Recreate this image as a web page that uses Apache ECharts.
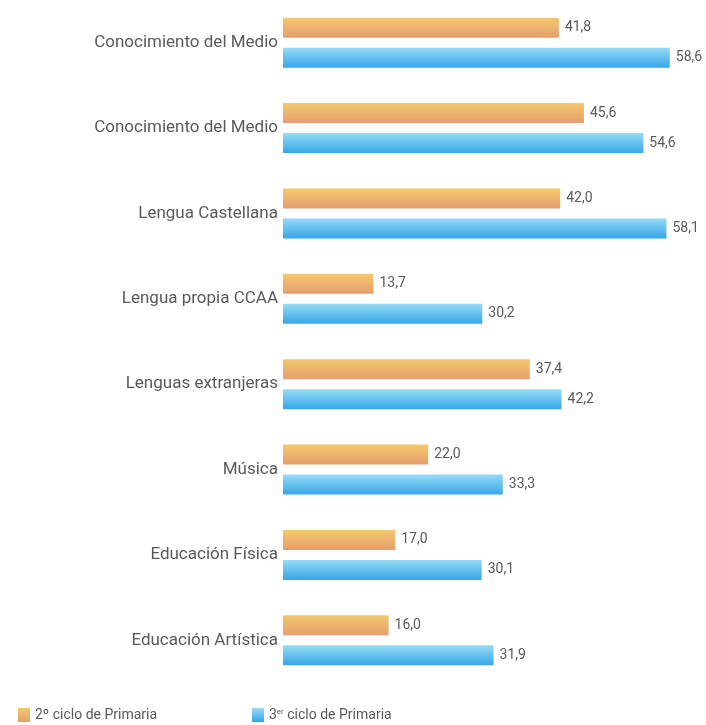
<!DOCTYPE html>
<html>
<head>
<meta charset="utf-8">
<script src="https://cdn.jsdelivr.net/npm/echarts@6/dist/echarts.min.js"></script>
<style>html,body{margin:0;padding:0;background:#fff;}#c{width:706px;height:725px;}</style>
</head>
<body>
<div id="c"></div>
<script>
const categories = ['Conocimiento del Medio','Conocimiento del Medio','Lengua Castellana','Lengua propia CCAA','Lenguas extranjeras','Música','Educación Física','Educación Artística'];
const seriesNames = ['2º ciclo de Primaria','3er ciclo de Primaria'];
const ciclo2 = [41.8, 45.6, 42.0, 13.7, 37.4, 22.0, 17.0, 16.0];
const ciclo3 = [58.6, 54.6, 58.1, 30.2, 42.2, 33.3, 30.1, 31.9];

const FONT = 'Roboto, sans-serif';
const fmt = p => p.value.toFixed(1).replace('.', ',');
const orangeGrad = new echarts.graphic.LinearGradient(0,0,0,1,[{offset:0,color:'#f5c96b'},{offset:1,color:'#e49d70'}]);
const blueGrad = new echarts.graphic.LinearGradient(0,0,0,1,[{offset:0,color:'#97dbf7'},{offset:1,color:'#36a6e6'}]);

const chart = echarts.init(document.getElementById('c'), null, {renderer:'canvas'});
chart.setOption({
  backgroundColor:'#fff',
  animation:false,
  grid:{left:283, top:-4, height:687, width:396},
  xAxis:{type:'value', min:0, max:60, show:false},
  yAxis:{type:'category', inverse:true, data:categories,
    axisLine:{show:false}, axisTick:{show:false}, splitLine:{show:false},
    axisLabel:{margin:5, fontFamily:FONT, fontSize:17, color:'#5a5a5a'}},
  legend:[
    {data:[seriesNames[0]], left:13, top:703, itemWidth:12, itemHeight:14, itemGap:8, icon:'rect',
      textStyle:{fontFamily:FONT, fontSize:14, color:'#5a5a5a'}},
    {data:[seriesNames[1]], left:247, top:703, itemWidth:12, itemHeight:14, icon:'rect',
      formatter: n => '3{sup|er} ciclo de Primaria',
      textStyle:{fontFamily:FONT, fontSize:14, color:'#5a5a5a', rich:{sup:{fontSize:8, verticalAlign:'top', padding:[0,0,6,0], fontFamily:FONT, color:'#5a5a5a'}}}}
  ],
  series:[
    {name:seriesNames[0], type:'bar', data:ciclo2, barWidth:20, barGap:'50%',
      itemStyle:{color:orangeGrad},
      label:{show:true, position:'right', distance:6, formatter:fmt, fontFamily:FONT, fontSize:14, color:'#5a5a5a'}},
    {name:seriesNames[1], type:'bar', data:ciclo3, barWidth:20, barGap:'50%',
      itemStyle:{color:blueGrad},
      label:{show:true, position:'right', distance:6, formatter:fmt, fontFamily:FONT, fontSize:14, color:'#5a5a5a'}}
  ]
});
</script>
</body>
</html>
